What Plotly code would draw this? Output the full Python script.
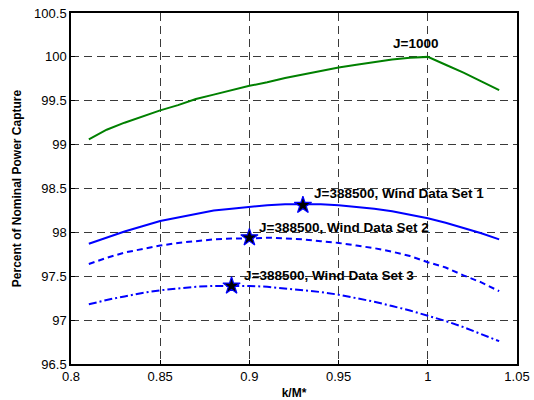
import plotly.graph_objects as go

k = [0.81, 0.82, 0.83, 0.84, 0.85, 0.86, 0.87, 0.88, 0.89, 0.90, 0.91, 0.92,
     0.93, 0.94, 0.95, 0.96, 0.97, 0.98, 0.99, 1.00, 1.01, 1.02, 1.03, 1.04]

j1000 = [99.06, 99.17, 99.25, 99.32, 99.39, 99.45, 99.52, 99.57, 99.62, 99.67, 99.71, 99.76,
         99.80, 99.84, 99.88, 99.91, 99.94, 99.97, 99.99, 100.00, 99.91, 99.82, 99.72, 99.62]

set1 = [97.87, 97.94, 98.01, 98.07, 98.13, 98.17, 98.21, 98.25, 98.27, 98.29, 98.31, 98.32,
        98.32, 98.32, 98.31, 98.29, 98.27, 98.24, 98.20, 98.16, 98.11, 98.05, 97.99, 97.92]

set2 = [97.64, 97.71, 97.77, 97.81, 97.85, 97.88, 97.90, 97.92, 97.93, 97.93, 97.94, 97.93,
        97.92, 97.90, 97.88, 97.85, 97.82, 97.78, 97.73, 97.66, 97.60, 97.51, 97.43, 97.33]

set3 = [97.18, 97.23, 97.27, 97.31, 97.34, 97.36, 97.38, 97.39, 97.39, 97.39, 97.38, 97.36,
        97.34, 97.32, 97.29, 97.25, 97.21, 97.16, 97.11, 97.05, 96.99, 96.92, 96.84, 96.76]

star_x = [0.93, 0.90, 0.89]
star_y = [98.31, 97.94, 97.39]

labels = ["J=1000", "J=388500, Wind Data Set 1", "J=388500, Wind Data Set 2", "J=388500, Wind Data Set 3"]
label_x = [0.993, 0.935, 0.904, 0.896]
label_y = [100.15, 98.44, 98.05, 97.51]
label_anchor = ["center", "left", "left", "left"]

x_ticks = [0.8, 0.85, 0.9, 0.95, 1.0, 1.05]
x_tick_text = ["0.8", "0.85", "0.9", "0.95", "1", "1.05"]
y_ticks = [96.5, 97, 97.5, 98, 98.5, 99, 99.5, 100, 100.5]
y_tick_text = ["96.5", "97", "97.5", "98", "98.5", "99", "99.5", "100", "100.5"]

FONT = "Liberation Sans, Arial"

fig = go.Figure()
fig.add_trace(go.Scatter(x=k, y=j1000, mode="lines", line=dict(color="#008000", width=2)))
fig.add_trace(go.Scatter(x=k, y=set1, mode="lines", line=dict(color="#0000FF", width=2)))
fig.add_trace(go.Scatter(x=k, y=set2, mode="lines", line=dict(color="#0000FF", width=2, dash="6px,4px")))
fig.add_trace(go.Scatter(x=k, y=set3, mode="lines", line=dict(color="#0000FF", width=2, dash="8px,3px,2px,3px")))
fig.add_trace(go.Scatter(x=star_x, y=star_y, mode="markers",
                         marker=dict(symbol="star", size=13, color="black",
                                     line=dict(color="#0000FF", width=1.2))))

for t, x, y, a in zip(labels, label_x, label_y, label_anchor):
    fig.add_annotation(x=x, y=y, text="<b>" + t + "</b>", showarrow=False, xanchor=a, yanchor="middle",
                       font=dict(family=FONT, size=13.5, color="black"))

axis_common = dict(showline=True, linecolor="black", linewidth=1.5, mirror=True,
                   showgrid=True, gridcolor="#3a3a3a", gridwidth=1, griddash="8px,5px",
                   ticks="inside", ticklen=4, tickcolor="black", zeroline=False, automargin=False,
                   tickfont=dict(family=FONT, size=13, color="black"))

fig.update_xaxes(range=[0.8, 1.05], tickvals=x_ticks, ticktext=x_tick_text, ticklabelstandoff=0,
                 title=dict(text="<b>k/M*</b>", standoff=6,
                            font=dict(family=FONT, size=12, color="black")),
                 **axis_common)
fig.update_yaxes(range=[96.5, 100.5], tickvals=y_ticks, ticktext=y_tick_text,
                 title=dict(text="<b>Percent of Nominal Power Capture</b>", standoff=10,
                            font=dict(family=FONT, size=12, color="black")),
                 **axis_common)

fig.update_layout(width=534, height=400, margin=dict(l=71, r=17, t=13, b=36),
                  plot_bgcolor="white", paper_bgcolor="white", showlegend=False)

fig.write_html("out.html")
